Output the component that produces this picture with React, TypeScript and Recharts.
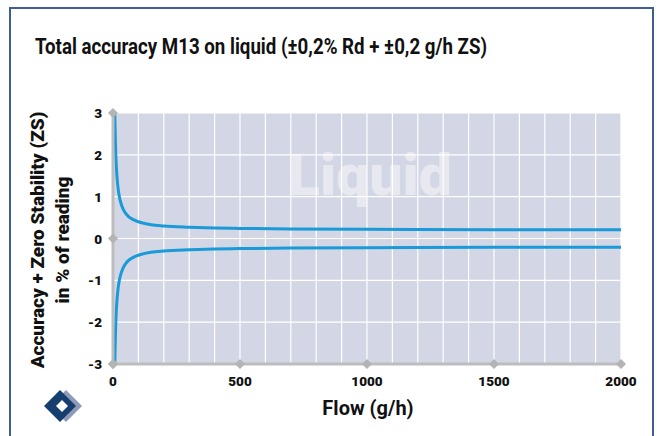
import { LineChart, Line, XAxis, YAxis, CartesianGrid, Customized } from "recharts";

// flow in g/h, accuracy band in % of reading
const flow = [7, 8, 10, 12, 15, 20, 25, 30, 40, 50, 60, 80, 100, 150, 200, 300, 400, 500, 700, 1000, 1500, 2000];
const upper = [3.0, 2.7, 2.2, 1.87, 1.53, 1.2, 1.0, 0.87, 0.7, 0.6, 0.53, 0.45, 0.4, 0.33, 0.3, 0.27, 0.25, 0.24, 0.23, 0.22, 0.21, 0.21];
const lower = [-3.0, -2.7, -2.2, -1.87, -1.53, -1.2, -1.0, -0.87, -0.7, -0.6, -0.53, -0.45, -0.4, -0.33, -0.3, -0.27, -0.25, -0.24, -0.23, -0.22, -0.21, -0.21];

const xTicks = [0, 500, 1000, 1500, 2000];
const yTicks = [-3, -2, -1, 0, 1, 2, 3];
const yMarked = [-3, 0, 3];
const xGrid = [0, 100, 200, 300, 400, 500, 600, 700, 800, 900, 1000, 1100, 1200, 1300, 1400, 1500, 1600, 1700, 1800, 1900, 2000];

const data = flow.map((f, i) => ({ flow: f, upper: upper[i], lower: lower[i] }));

const font = '"Roboto", "Liberation Sans", sans-serif';
const axisGrey = "#bdbdbd";
const lineBlue = "#1a9ad8";

function Diamond({ x, y }: { x: number; y: number }) {
  const r = 5;
  return <polygon points={`${x},${y - r} ${x + r},${y} ${x},${y + r} ${x - r},${y}`} fill="#b4b4b4" />;
}

function XTick(props: any) {
  const { x, y, payload } = props;
  return (
    <g>
      <Diamond x={x} y={y} />
      <text x={x} y={y + 22} textAnchor="middle" fontFamily={font} fontWeight={900} fontSize={13.5} fill="#111">
        {payload.value}
      </text>
    </g>
  );
}

function YTick(props: any) {
  const { x, y, payload } = props;
  return (
    <g>
      {yMarked.includes(payload.value) && <Diamond x={x} y={y} />}
      <text x={x - 11} y={y + 5} textAnchor="end" fontFamily={font} fontWeight={900} fontSize={13.5} fill="#111">
        {payload.value}
      </text>
    </g>
  );
}

function Watermark() {
  return (
    <text
      x={370}
      y={195}
      textAnchor="middle"
      fontFamily={font}
      fontWeight={900}
      fontSize={57}
      textLength={164}
      lengthAdjust="spacingAndGlyphs"
      fill="#ffffff"
      fillOpacity={0.45}
    >
      Liquid
    </text>
  );
}

function Logo() {
  return (
    <svg width={50} height={44} style={{ position: "absolute", left: 40, top: 384 }}>
      <polygon points="26,6 42,22 26,38 10,22" fill="#8f9ab9" />
      <polygon points="20,6 36,22 20,38 4,22" fill="#163f70" />
      <polygon points="22,16 28,22 22,28 16,22" fill="#ffffff" />
    </svg>
  );
}

export default function App() {
  return (
    <div style={{ position: "absolute", left: 0, top: 0, width: 661, height: 436, background: "#fff", overflow: "hidden" }}>
      <div
        style={{
          position: "absolute",
          left: 9,
          top: 7,
          width: 641,
          height: 450,
          border: "2px solid #3f5f90",
        }}
      />
      <svg width={661} height={70} style={{ position: "absolute", left: 0, top: 0 }}>
        <text
          x={35}
          y={54}
          fontFamily={font}
          fontWeight={700}
          fontSize={22}
          textLength={452}
          lengthAdjust="spacingAndGlyphs"
          fill="#111"
        >
          Total accuracy M13 on liquid (±0,2% Rd + ±0,2 g/h ZS)
        </text>
      </svg>
      <div style={{ position: "absolute", left: 0, top: 0 }}>
        <LineChart width={661} height={436} data={data} margin={{ top: 113, right: 40, bottom: 52, left: 83 }}>
          <CartesianGrid
            fill="#d3d6e4"
            stroke="#ffffff"
            strokeWidth={1.2}
            verticalValues={xGrid}
            horizontalValues={yTicks}
          />
          <Customized component={Watermark} />
          <XAxis
            dataKey="flow"
            type="number"
            domain={[0, 2000]}
            ticks={xTicks}
            height={20}
            axisLine={{ stroke: axisGrey, strokeWidth: 3 }}
            tickLine={false}
            tickSize={0}
            tickMargin={0}
            tick={<XTick />}
            interval={0}
          />
          <YAxis
            type="number"
            domain={[-3, 3]}
            ticks={yTicks}
            width={30}
            axisLine={{ stroke: axisGrey, strokeWidth: 3 }}
            tickLine={false}
            tickSize={0}
            tickMargin={0}
            tick={<YTick />}
            interval={0}
          />
          <Line type="monotone" dataKey="upper" stroke={lineBlue} strokeWidth={3} dot={false} isAnimationActive={false} />
          <Line type="monotone" dataKey="lower" stroke={lineBlue} strokeWidth={3} dot={false} isAnimationActive={false} />
        </LineChart>
      </div>
      <div
        style={{
          position: "absolute",
          left: 368,
          top: 396,
          transform: "translateX(-50%)",
          fontFamily: font,
          fontWeight: 700,
          fontSize: 20,
          color: "#111",
          whiteSpace: "nowrap",
        }}
      >
        Flow (g/h)
      </div>
      <div
        style={{
          position: "absolute",
          left: 50,
          top: 240,
          transform: "translate(-50%, -50%) rotate(-90deg)",
          fontFamily: font,
          fontWeight: 900,
          fontSize: 19,
          lineHeight: "25px",
          color: "#111",
          whiteSpace: "nowrap",
          textAlign: "center",
        }}
      >
        Accuracy + Zero Stability (ZS)
        <br />
        in % of reading
      </div>
      <Logo />
    </div>
  );
}
